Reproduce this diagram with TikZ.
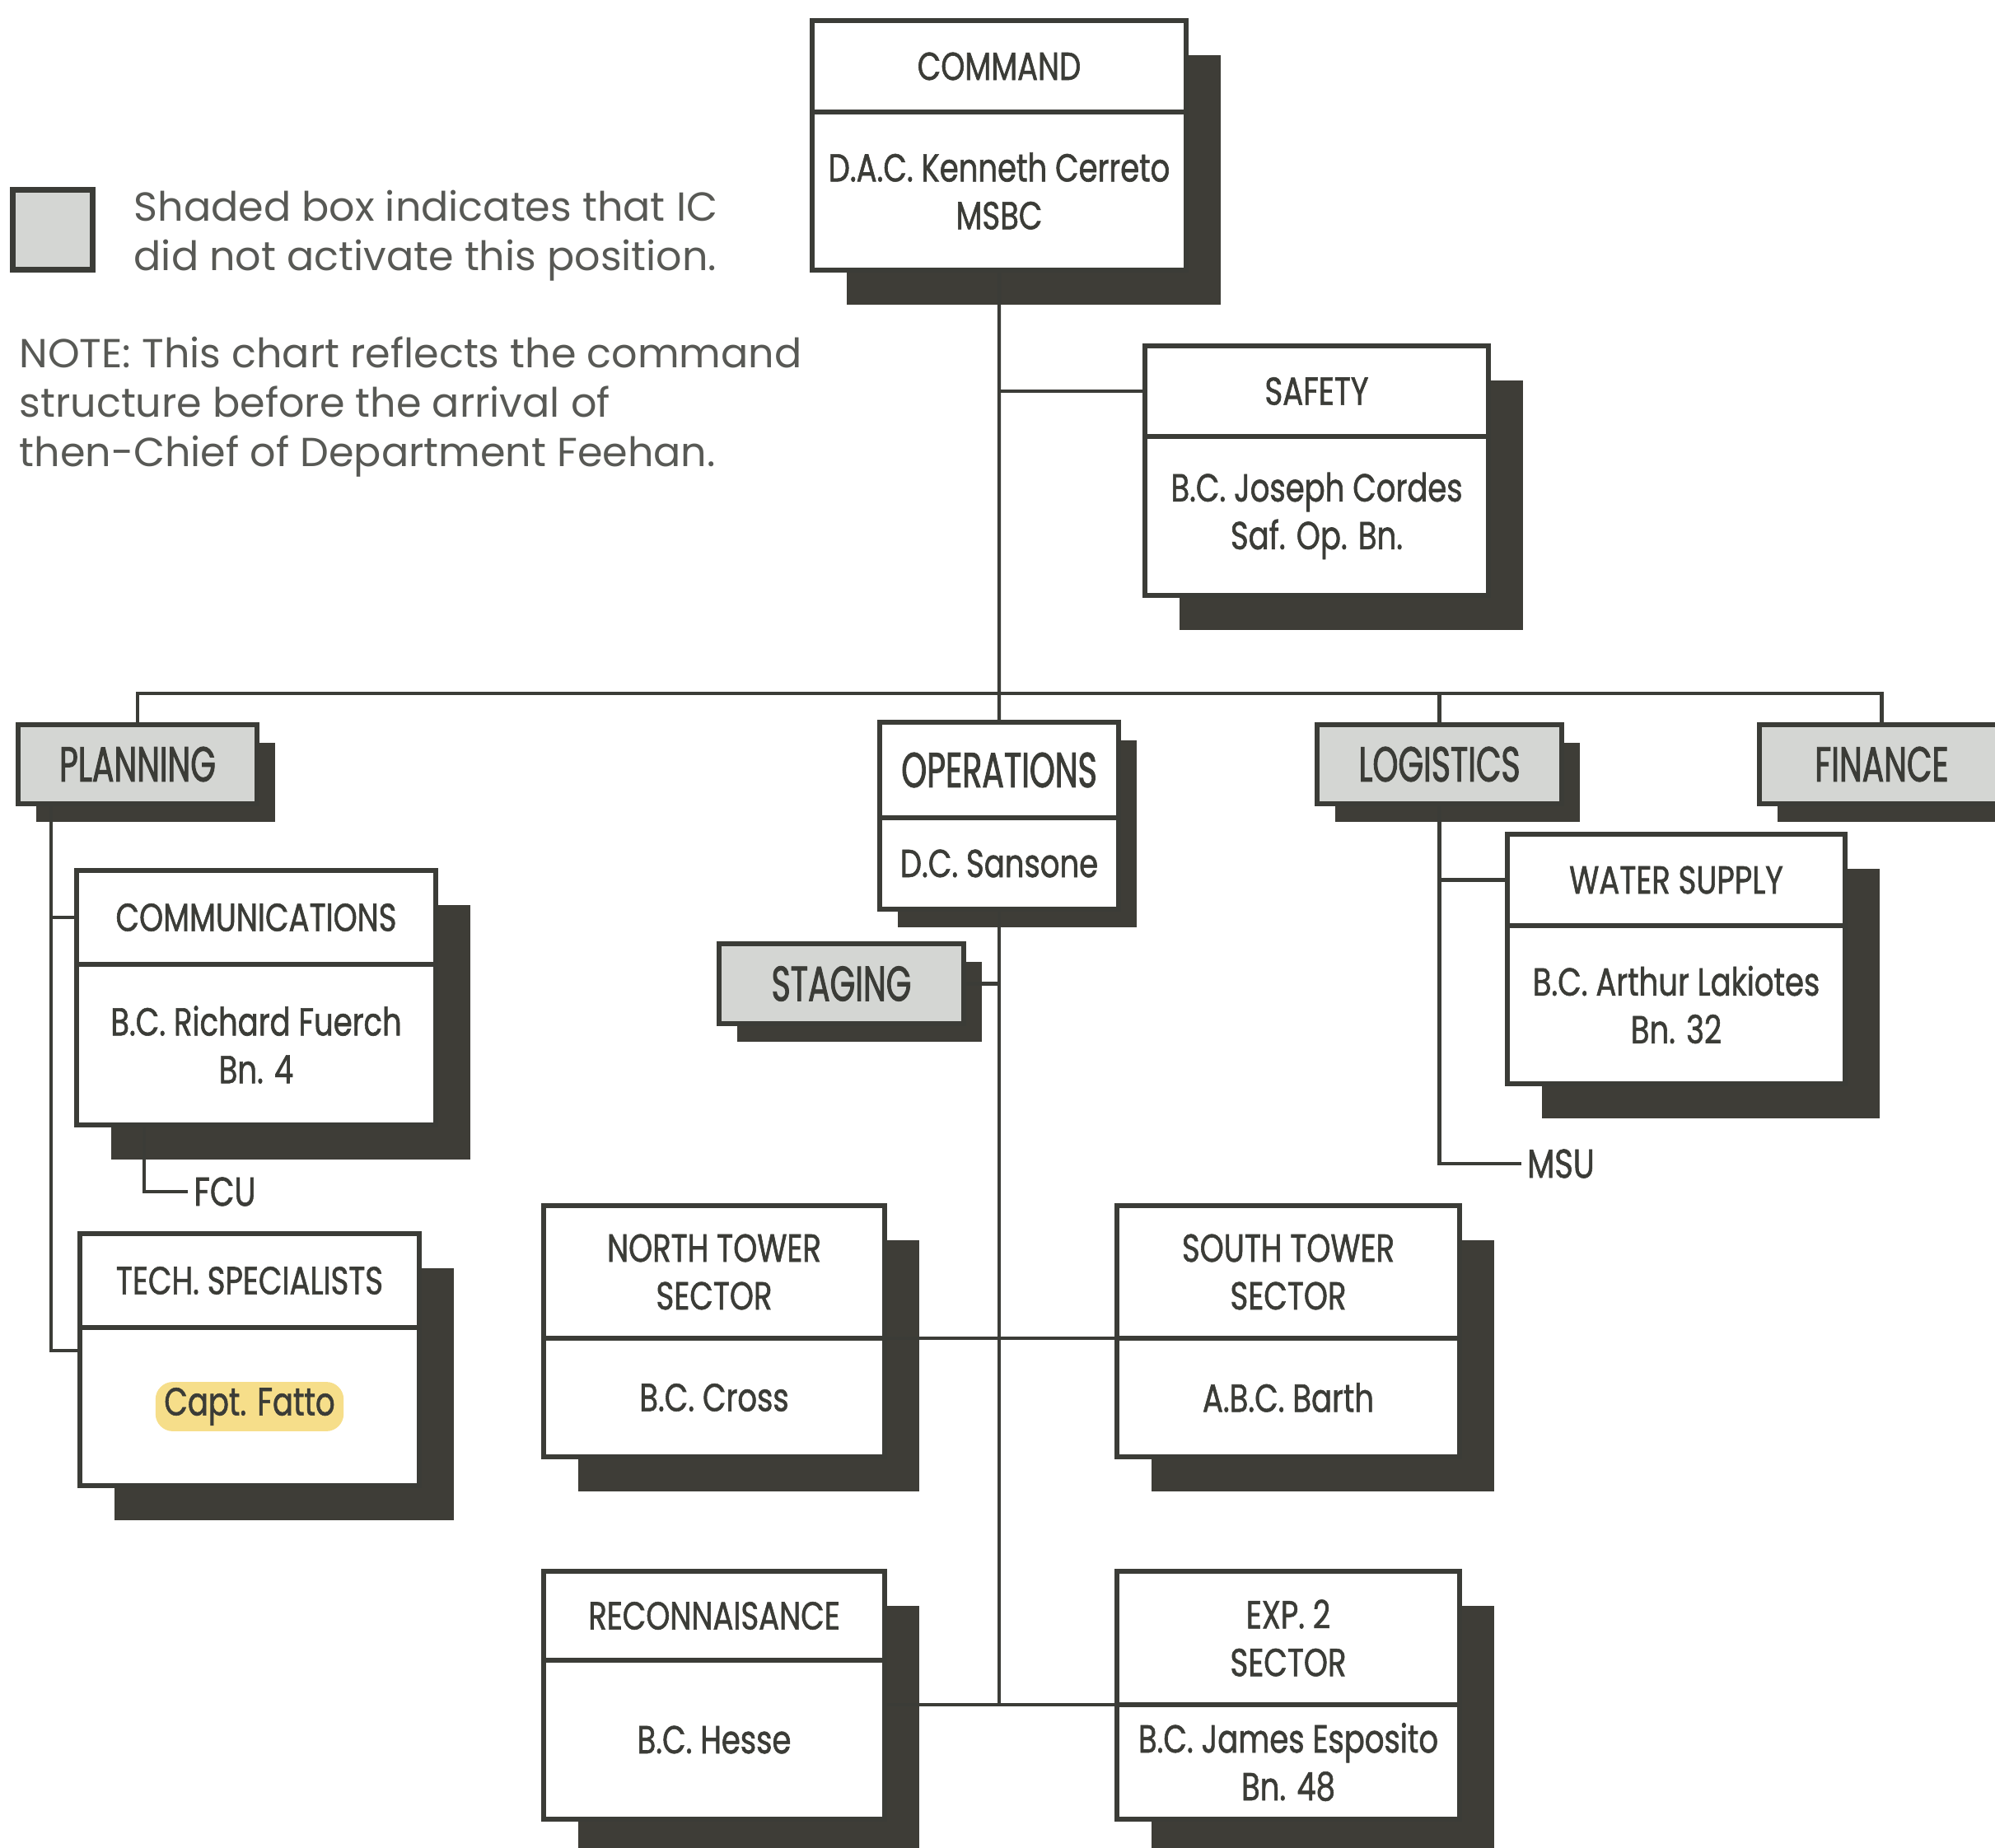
\documentclass[tikz,border=0pt]{standalone}
\usepackage{fontspec}
\setmainfont{Poppins}
\newfontfamily\chartfont[FakeStretch=0.78, FakeBold=1.2]{Poppins}
\newfontfamily\tagfont[FakeStretch=0.66, FakeBold=1.5]{Poppins}
\usetikzlibrary{positioning, shadows}

\definecolor{ink}{HTML}{3B3C37}
\definecolor{shadowgray}{HTML}{3E3D37}
\definecolor{dotfill}{HTML}{D4D6D3}
\definecolor{marker}{HTML}{F6DE8A}

\begin{document}
\begin{tikzpicture}[node distance=0pt]
\tikzset{
  part/.style={
    rectangle,
    draw=ink, line width=1.5pt,
    fill=white,
    text=ink,
    inner sep=0pt, outer sep=0pt,
    align=center,
    font=\chartfont\fontsize{13.5}{16.5}\selectfont},
  bigshadow/.style={drop shadow={shadow xshift=0.42cm, shadow yshift=-0.42cm, fill=shadowgray, opacity=1}},
  smallshadow/.style={drop shadow={shadow xshift=0.22cm, shadow yshift=-0.22cm, fill=shadowgray, opacity=1}},
  unit/.style={part, bigshadow},
  opsunit/.style={part, smallshadow},
  inactive/.style={part, smallshadow, fill=dotfill, font=\tagfont\fontsize{17}{20}\selectfont},
  key/.style={part, fill=dotfill, line width=2.2pt, minimum size=0.97cm},
  note/.style={text=ink!85, align=left, inner sep=0pt, font=\fontsize{14}{17}\selectfont},
  tag/.style={text=ink, inner sep=2pt, font=\chartfont\fontsize{14}{16}\selectfont},
  marked/.style={fill=marker, rounded corners=6pt, text=ink, inner xsep=3pt, inner ysep=2pt, font=\chartfont\fontsize{13.5}{16.5}\selectfont},
  link/.style={draw=ink, line width=1.2pt},
}
\useasboundingbox (0,0) rectangle (24.22,-22.44);

% legend
\node[key] (legendkey) at (0.64,-2.79) {};
\node[note, anchor=west] (legendtext) at (1.62,-2.86) {Shaded box indicates that IC\\did not activate this position.};
\node[note, anchor=west] (remark) at (0.23,-4.94) {NOTE: This chart reflects the command\\structure before the arrival of\\then-Chief of Department Feehan.};

% command + safety
\node[unit, anchor=north west, minimum width=4.54cm, minimum height=1.11cm] (cmdhead) at (9.86,-0.25) {COMMAND};
\node[unit, below=of cmdhead, minimum width=4.54cm, minimum height=1.92cm] (cmdbody) {D.A.C. Kenneth Cerreto\\MSBC};

\node[unit, anchor=north west, minimum width=4.17cm, minimum height=1.10cm] (safehead) at (13.90,-4.20) {SAFETY};
\node[unit, below=of safehead, minimum width=4.17cm, minimum height=1.93cm] (safebody) {B.C. Joseph Cordes\\Saf. Op. Bn.};

% sections
\node[inactive, anchor=north west, minimum width=2.90cm, minimum height=0.96cm] (planning) at (0.22,-8.80) {PLANNING};
\node[opsunit, anchor=north west, minimum width=2.90cm, minimum height=1.16cm, font=\tagfont\fontsize{17}{20}\selectfont] (opshead) at (10.68,-8.77) {OPERATIONS};
\node[opsunit, below=of opshead, minimum width=2.90cm, minimum height=1.11cm] (opsbody) {D.C. Sansone};
\node[inactive, anchor=north west, minimum width=2.97cm, minimum height=0.96cm] (logistics) at (15.99,-8.80) {LOGISTICS};
\node[inactive, anchor=north west, minimum width=2.97cm, minimum height=0.96cm] (finance) at (21.36,-8.80) {FINANCE};

% planning branch
\node[unit, anchor=north west, minimum width=4.36cm, minimum height=1.14cm] (commhead) at (0.93,-10.57) {COMMUNICATIONS};
\node[unit, below=of commhead, minimum width=4.36cm, minimum height=1.95cm] (commbody) {B.C. Richard Fuerch\\Bn. 4};
\node[tag] (fcu) at (2.73,-14.47) {FCU};
\node[unit, anchor=north west, minimum width=4.12cm, minimum height=1.14cm] (techhead) at (0.97,-14.98) {TECH. SPECIALISTS};
\node[unit, below=of techhead, minimum width=4.12cm, minimum height=1.92cm] (techbody) {};
\node[marked] (fatto) at (techbody) {Capt. Fatto};

% operations branch
\node[inactive, anchor=north west, minimum width=2.97cm, minimum height=0.97cm] (staging) at (8.73,-11.46) {STAGING};
\node[unit, anchor=north west, minimum width=4.14cm, minimum height=1.61cm] (nthead) at (6.60,-14.64) {NORTH TOWER\\SECTOR};
\node[unit, below=of nthead, minimum width=4.14cm, minimum height=1.44cm] (ntbody) {B.C. Cross};
\node[unit, anchor=north west, minimum width=4.16cm, minimum height=1.61cm] (sthead) at (13.56,-14.64) {SOUTH TOWER\\SECTOR};
\node[unit, below=of sthead, minimum width=4.16cm, minimum height=1.44cm] (stbody) {A.B.C. Barth};
\node[unit, anchor=north west, minimum width=4.14cm, minimum height=1.08cm] (reconhead) at (6.60,-19.08) {RECONNAISANCE};
\node[unit, below=of reconhead, minimum width=4.14cm, minimum height=1.93cm] (reconbody) {B.C. Hesse};
\node[unit, anchor=north west, minimum width=4.16cm, minimum height=1.62cm] (exphead) at (13.56,-19.08) {EXP. 2\\SECTOR};
\node[unit, below=of exphead, minimum width=4.16cm, minimum height=1.39cm] (expbody) {B.C. James Esposito\\Bn. 48};

% logistics branch
\node[unit, anchor=north west, minimum width=4.10cm, minimum height=1.11cm] (waterhead) at (18.30,-10.13) {WATER SUPPLY};
\node[unit, below=of waterhead, minimum width=4.10cm, minimum height=1.92cm] (waterbody) {B.C. Arthur Lakiotes\\Bn. 32};
\node[tag] (msu) at (18.95,-14.13) {MSU};

\coordinate (bar) at (0,-8.42);
\coordinate (planspine) at (0.62,0);

\draw[link] (cmdbody.south) -- (opshead.north);
\draw[link] (safehead.west) -- (safehead.west -| cmdbody.south);
\draw[link] (planning.north) -- (planning.north |- bar) -- (finance.north |- bar) -- (finance.north);
\draw[link] (logistics.north) -- (logistics.north |- bar);

\draw[link] (planning.south -| planspine) |- ([yshift=-8pt]techbody.north west);
\draw[link] (commhead.west -| planspine) -- (commhead.west);
\draw[link] (fcu.west) -| ([xshift=0.82cm]commbody.south west);

\draw[link] (opsbody.south) -- (opsbody.south |- exphead.south);
\draw[link] (staging.east) -- (staging.east -| opsbody.south);
\draw[link] (nthead.south east) -- (sthead.south west);
\draw[link] (reconbody.east |- exphead.south) -- (exphead.south west);

\draw[link] (msu.west) -| (logistics.south);
\draw[link] (waterhead.west) -- (waterhead.west -| logistics.south);
\end{tikzpicture}
\end{document}
